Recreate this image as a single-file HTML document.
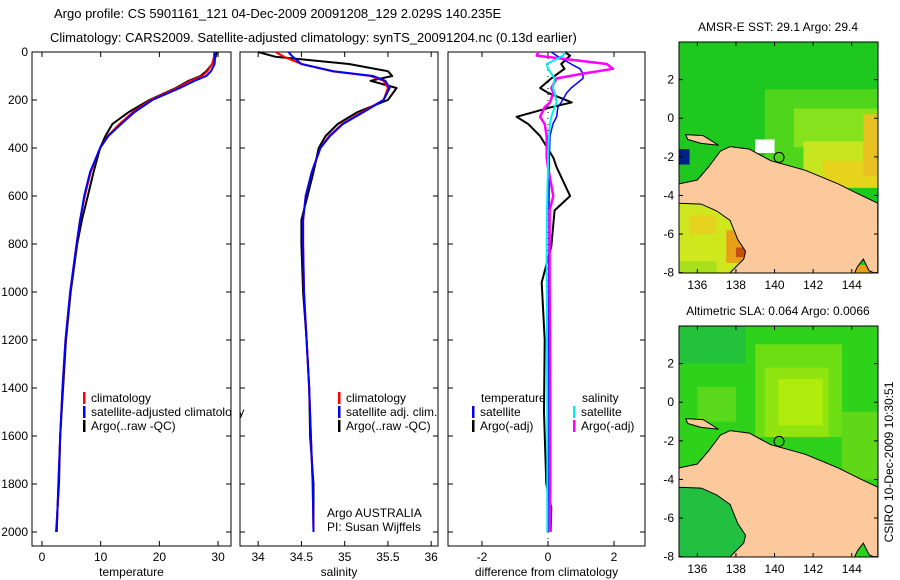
<!DOCTYPE html>
<html><head><meta charset="utf-8">
<style>
html,body{margin:0;padding:0;background:#fff;}
svg{display:block;font-family:"Liberation Sans",sans-serif;}
text{font-size:12px;fill:#000;}
</style></head>
<body>
<svg id="fig" width="900" height="580" viewBox="0 0 900 580" xmlns="http://www.w3.org/2000/svg">
<text x="54" y="18" style="font-size:13px">Argo profile: CS 5901161_121 04-Dec-2009 20091208_129 2.029S 140.235E</text>
<text x="50" y="42" style="font-size:13px">Climatology: CARS2009. Satellite-adjusted climatology: synTS_20091204.nc (0.13d earlier)</text>
<text x="778" y="31" text-anchor="middle">AMSR-E SST: 29.1 Argo: 29.4</text>
<text x="778" y="315" text-anchor="middle">Altimetric SLA: 0.064 Argo: 0.0066</text>
<text transform="translate(893,462) rotate(-90)" text-anchor="middle">CSIRO 10-Dec-2009 10:30:51</text>
<g id="g"></g>
</svg>
<script>
const depths=[0,20,50,80,100,120,150,200,250,300,350,400,500,600,700,800,1000,1200,1400,1600,1800,2000];
const tempClim=[29.3,29.3,29.0,28.2,27.3,25.3,23.0,18.5,15.5,13.2,11.2,9.9,8.3,7.3,6.5,5.9,4.8,4.0,3.5,3.1,2.8,2.5];
const tempSat=[29.5,29.5,29.4,28.8,28.0,26.0,23.5,18.8,15.8,13.5,11.3,9.9,8.2,7.2,6.5,5.9,4.8,4.0,3.5,3.1,2.8,2.5];
const tempArgo=[29.8,29.6,29.0,28.0,27.0,25.0,22.8,18.3,14.8,12.0,10.8,9.9,8.8,7.8,6.8,6.0,4.9,4.1,3.6,3.1,2.9,2.4];
const salClim=[34.2,34.3,34.5,34.85,35.3,35.45,35.5,35.45,35.2,34.97,34.82,34.72,34.62,34.55,34.52,34.52,34.53,34.56,34.59,34.61,34.63,34.64];
const salSat=[34.35,34.4,34.5,34.87,35.33,35.47,35.52,35.45,35.22,34.98,34.83,34.72,34.62,34.55,34.52,34.52,34.53,34.56,34.59,34.61,34.63,34.64];
const salArgo=[34.0,34.2,35.05,35.5,35.55,35.3,35.6,35.5,35.15,34.92,34.78,34.7,34.64,34.57,34.5,34.5,34.52,34.56,34.59,34.6,34.64,34.64];
const diffDepths=[0,15,50,70,90,110,150,170,210,230,270,300,350,440,480,600,660,810,960,1200,1500,1800,1900,2000];
const dTempArgo=[0.5,0.67,0.4,0.5,0.3,0.1,-0.24,0.0,0.72,0.1,-0.95,-0.6,-0.24,0.16,0.26,0.67,0.2,0.1,-0.19,-0.1,-0.12,-0.05,0.1,0.08];
const dTempSat=[0.1,0.26,0.7,0.97,1.06,1.06,0.7,0.57,0.4,0.3,0.26,0.15,0.06,0.04,0.04,0.03,0.03,0.03,0.02,0.02,0.02,0.02,0.02,0.02];
const dSalArgo=[-0.3,-0.34,1.78,1.97,1.06,0.26,0.1,0.16,0.06,-0.1,-0.24,-0.1,-0.04,-0.04,0.0,0.16,0.05,0.05,0.05,0.06,0.07,0.07,0.06,0.06];
const dSalSat=[0.5,0.46,-0.04,0.0,0.1,0.2,0.15,0.2,0.26,0.2,0.1,0.06,0.03,0.0,0.0,-0.02,-0.03,-0.04,-0.04,-0.03,-0.02,-0.02,-0.02,-0.02];
const depthTicks=[0,200,400,600,800,1000,1200,1400,1600,1800,2000];
const tempTicks=[0,10,20,30];
const salTicks=[34,34.5,35,35.5,36];
const salTickLabels=["34","34.5","35","35.5","36"];
const diffTicks=[-2,0,2];
const lonTicks=[136,138,140,142,144];
const latTicks=[2,0,-2,-4,-6,-8];

const NS='http://www.w3.org/2000/svg';
const G=document.getElementById('g');
function mk(tag,attrs,parent){const e=document.createElementNS(NS,tag);for(const k in attrs)e.setAttribute(k,attrs[k]);(parent||G).appendChild(e);return e;}
function txt(x,y,s,anchor,parent){const t=mk('text',{x:x,y:y,'text-anchor':anchor||'start'},parent);t.textContent=s;return t;}
const yTop=52,yBot=546;
function yD(d){return 52+d*0.24;}
const panels=[
 {name:'temperature',x0:32,x1:231,v0:-1.7,k:5.87,ticks:tempTicks,labels:tempTicks.map(String),title:'temperature'},
 {name:'salinity',x0:240,x1:438,v0:33.79,k:86.5,ticks:salTicks,labels:salTickLabels,title:'salinity'},
 {name:'difference',x0:448,x1:645,v0:-3.03,k:33,ticks:diffTicks,labels:diffTicks.map(String),title:'difference from climatology'}
];
function xf(p,v){return p.x0+(v-p.v0)*p.k;}
panels.forEach((p,i)=>{
 const a=mk('rect',{x:p.x0,y:yTop,width:p.x1-p.x0,height:yBot-yTop,fill:'none',stroke:'#000','stroke-width':1});
 
 
 p.ticks.forEach((t,j)=>{const x=xf(p,t);
  mk('line',{x1:x,y1:yBot,x2:x,y2:yBot-5,stroke:'#000'});mk('line',{x1:x,y1:yTop,x2:x,y2:yTop+5,stroke:'#000'});
  const l=txt(x,561,p.labels[j],'middle');
  
  
 });
 depthTicks.forEach(d=>{const y=yD(d);
  mk('line',{x1:p.x0,y1:y,x2:p.x0+5,y2:y,stroke:'#000'});mk('line',{x1:p.x1,y1:y,x2:p.x1-5,y2:y,stroke:'#000'});
  if(i===0){const l=txt(28,y+4,String(d),'end');
   
   }
 });
 const tt=txt((p.x0+p.x1)/2,576,p.title,'middle');
 
 
});
function line(p,ds,vs,color,w,name){
 const pts=ds.map((d,i)=>xf(p,vs[i]).toFixed(1)+','+yD(d).toFixed(1)).join(' ');
 const e=mk('polyline',{points:pts,fill:'none',stroke:color,'stroke-width':w,'stroke-linejoin':'round'});
 
 
}
const [P1,P2,P3]=panels;
line(P1,depths,tempArgo,'#000',2,'temp-argo-line');
line(P1,depths,tempClim,'#f00',2,'temp-climatology-line');
line(P1,depths,tempSat,'#00f',2,'temp-satellite-line');
line(P2,depths,salArgo,'#000',2,'sal-argo-line');
line(P2,depths,salClim,'#f00',2,'sal-climatology-line');
line(P2,depths,salSat,'#00f',2,'sal-satellite-line');
mk('line',{x1:xf(P3,0),y1:yTop,x2:xf(P3,0),y2:yBot,stroke:'#000','stroke-dasharray':'1,5'});
line(P3,diffDepths,dTempArgo,'#000',2,'diff-temp-argo-line');
line(P3,diffDepths,dTempSat,'#00f',1.5,'diff-temp-satellite-line');
line(P3,diffDepths,dSalArgo,'#f0f',2.5,'diff-sal-argo-line');
line(P3,diffDepths,dSalSat,'#0ee',2,'diff-sal-satellite-line');
function leg(x,y,color,label,name){
 if(color)mk('rect',{x:x,y:y-10,width:2.5,height:12,fill:color});
 const t=txt(x+(color?8:0),y,label);
 
 
}
leg(83,402,'#f00','climatology','legend-temp-climatology');
leg(83,416,'#00f','satellite-adjusted climatology','legend-temp-satellite');
leg(83,430,'#000','Argo(..raw -QC)','legend-temp-argo');
leg(338,402,'#f00','climatology','legend-sal-climatology');
leg(338,416,'#00f','satellite adj. clim.','legend-sal-satellite');
leg(338,430,'#000','Argo(..raw -QC)','legend-sal-argo');
leg(481,402,null,'temperature','legend-diff-temp-header');
leg(582,402,null,'salinity','legend-diff-sal-header');
leg(472,416,'#00f','satellite','legend-diff-temp-satellite');
leg(472,430,'#000','Argo(-adj)','legend-diff-temp-argo');
leg(573,416,'#0ee','satellite','legend-diff-sal-satellite');
leg(573,430,'#f0f','Argo(-adj)','legend-diff-sal-argo');
leg(327,517,null,'Argo AUSTRALIA','agency-label');
leg(327,531,null,'PI: Susan Wijffels','pi-label');
// white rect to clip panel1 legend overflow like original
mk('rect',{x:231.5,y:405,width:8,height:14,fill:'#fff'});
mk('line',{x1:240,y1:405,x2:240,y2:419,stroke:'#000'});

// maps
const coastN=[[135.05,-3.4],[136.0,-3.2],[136.6,-2.5],[137.2,-1.7],[137.7,-1.47],[138.7,-1.6],[139.8,-2.2],[141.6,-2.7],[143.3,-3.4],[144.5,-4.0],[145.35,-4.4]];
const coastS=[[145.35,-8.1],[144.9,-7.9],[144.6,-7.3],[144.3,-7.7],[144.1,-8.1],[137.6,-8.1],[138.4,-7.3],[138.5,-6.9],[138.1,-6.3],[137.7,-5.3],[137.0,-4.8],[136.2,-4.45],[135.05,-4.4]];
function mapPanel(top,name,patches){
 const L=679,R=878,B=top+231;
 const lon=v=>L+(v-135.05)*19.3, lat=v=>top+(3.95-v)*19.3;
 const g=mk('g',{});
 
 
 mk('clipPath',{id:name+'-clip'},g).appendChild(Object.assign(document.createElementNS(NS,'rect'),{}));
 const cr=g.querySelector('clipPath rect');cr.setAttribute('x',L);cr.setAttribute('y',top);cr.setAttribute('width',R-L);cr.setAttribute('height',B-top);
 const inner=mk('g',{'clip-path':'url(#'+name+'-clip)'},g);
 patches.forEach(p=>mk('rect',{x:lon(p[0]),y:lat(p[3]),width:(p[2]-p[0])*19.3,height:(p[3]-p[1])*19.3,fill:p[4]},inner));
 const land=coastN.concat(coastS).map(c=>lon(c[0]).toFixed(1)+','+lat(c[1]).toFixed(1)).join(' ');
 const ld=mk('polygon',{points:land,fill:'#fbc99b',stroke:'#000','stroke-width':1},inner);
 
 
 mk('polygon',{points:[[135.4,-0.85],[136.3,-0.9],[137.1,-1.4],[136.2,-1.3],[135.5,-1.1]].map(c=>lon(c[0])+','+lat(c[1])).join(' '),fill:'#fbc99b',stroke:'#000'},inner);
 const m=mk('circle',{cx:lon(140.235),cy:lat(-2.029),r:5,fill:'none',stroke:'#000'},g);
 
 
 mk('rect',{x:L,y:top,width:R-L,height:B-top,fill:'none',stroke:'#000'},g);
 lonTicks.forEach(v=>{const x=lon(v);mk('line',{x1:x,y1:B,x2:x,y2:B-4,stroke:'#000'},g);mk('line',{x1:x,y1:top,x2:x,y2:top+4,stroke:'#000'},g);
  const t=txt(x,B+16,String(v),'middle',g);});
 latTicks.forEach(v=>{const y=lat(v);mk('line',{x1:L,y1:y,x2:L+4,y2:y,stroke:'#000'},g);mk('line',{x1:R,y1:y,x2:R-4,y2:y,stroke:'#000'},g);
  const t=txt(L-5,y+4,String(v),'end',g);});
}
mapPanel(42,'sst-map',[
 [135,-8.2,145.5,4.2,'#1ec81e'],
 [139.5,-3,145.5,1.5,'#4fd61c'],
 [141,-1.5,145.5,0.5,'#86e21c'],
 [141.5,-3.6,145.5,-1.2,'#c8e620'],
 [142.5,-3.6,145.5,-2.2,'#e6d41c'],
 [144.6,-3,145.5,0.2,'#e8c020'],
 [139,-1.8,140,-1.1,'#ffffff'],
 [135,-2.4,135.6,-1.6,'#00208a'],
 [135,-8.2,138.2,-4.3,'#cfe81e'],
 [135.6,-6,137,-5,'#e4d420'],
 [137.5,-7.5,138.5,-5.8,'#e8a018'],
 [138,-7.2,138.5,-6.7,'#c05010'],
 [135,-8.2,137,-7.4,'#a8e01e'],
 [144,-8.2,145.5,-7.6,'#e8a018']
]);
mapPanel(326,'sla-map',[
 [135,-8.2,145.5,4.2,'#2ed21a'],
 [135,2,138.5,4.2,'#22c23a'],
 [136,-1,138,0.8,'#5ad81c'],
 [139,-1.8,143.5,3],'#6ede14'.length?[139,-1.8,143.5,3,'#6ede14']:null,
 [139.5,-1.8,142.8,1.8,'#90e410'],
 [140.2,-1.2,142.5,1.2,'#b0ec0c'],
 [143.5,-4,145.5,-0.5,'#60d818'],
 [135,-8.2,138.5,-4.4,'#22c040']
].filter(p=>Array.isArray(p)&&p.length===5));
</script>
</body></html>
